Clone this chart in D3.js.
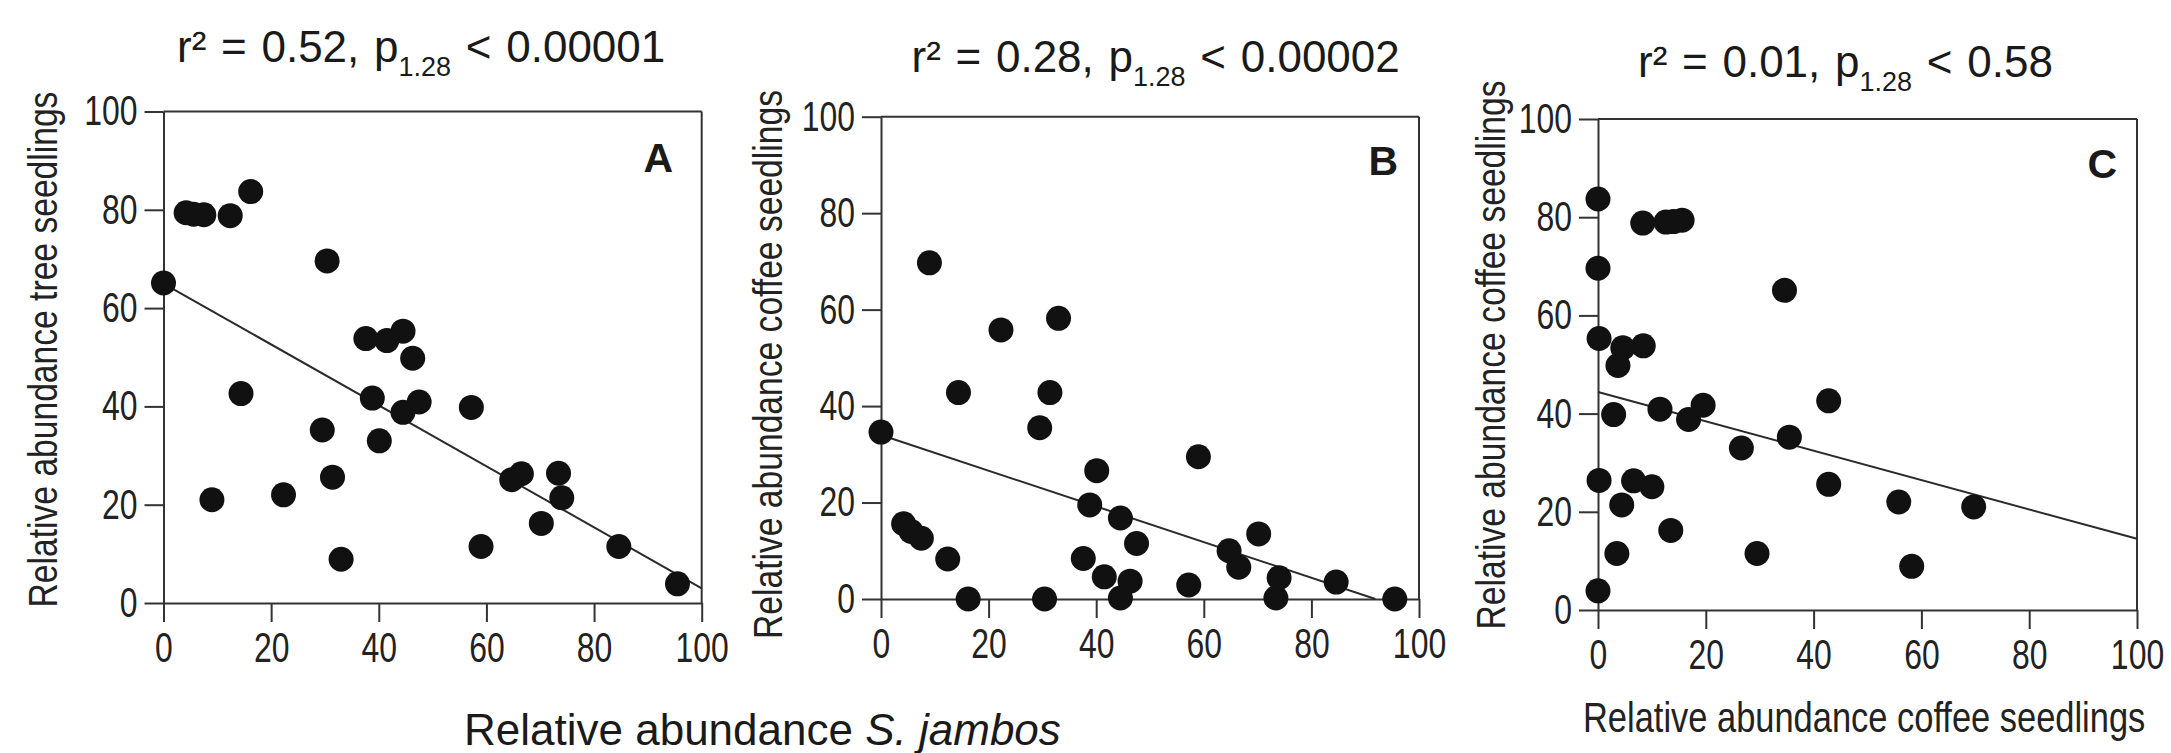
<!DOCTYPE html>
<html><head><meta charset="utf-8">
<script src="https://cdn.jsdelivr.net/npm/d3@7"></script>
<style>
body{margin:0;background:#fff;}
svg{display:block;}
.tick text{font-family:"Liberation Sans",Arial,Helvetica,sans-serif;font-size:42px;fill:#222;}
.narrow{font-family:"Liberation Sans",Arial,Helvetica,sans-serif;fill:#222;}
.reg{font-family:"Liberation Sans",Arial,Helvetica,sans-serif;fill:#1a1a1a;}
</style></head><body>
<svg id="chart" width="2171" height="753"></svg>
<script>
// ---- data ----
const tickValues = [0, 20, 40, 60, 80, 100];
// relative abundance S. jambos (x of panels A and B)
const jambos = [16.2, 30.4, 44.5, 73.4, 95.5, 46.3, 41.5, 37.6, 57.2, 74.0, 84.6, 12.4, 7.5, 4.2, 66.5,
                64.7, 47.5, 70.2, 44.5, 38.8, 40.1, 59.0, 0.0, 29.5, 14.4, 31.4, 22.3, 33.0, 9.0, 5.6];
// relative abundance tree seedlings (y of panels A and C)
const tree   = [83.7, 69.6, 55.3, 26.4, 3.9, 49.8, 53.4, 53.8, 39.8, 21.4, 11.5, 78.8, 79.0, 79.4, 26.3,
                25.1, 40.9, 16.2, 38.8, 41.7, 33.0, 11.5, 65.1, 35.2, 42.6, 25.6, 22.0, 8.9, 21.0, 79.1];
// relative abundance coffee seedlings (y of panel B, x of panel C)
const coffee = [0.0, 0.0, 0.2, 0.2, 0.0, 3.7, 4.6, 8.4, 2.9, 4.4, 3.5, 8.3, 12.6, 15.6, 6.6,
                10.0, 11.5, 13.5, 16.8, 19.5, 26.6, 29.5, 34.6, 35.5, 42.8, 42.8, 55.8, 58.2, 69.7, 14.0];
const panelLetters = ["A", "B", "C"];
const r2Values = ["0.52", "0.28", "0.01"];
const pValues = ["0.00001", "0.00002", "0.58"];
const pSub = "1.28";
const fitIntercepts = [65, 34, 44.4];
const fitSlopes = [-0.62, -0.37, -0.299];
const yTitles = ["Relative abundance tree seedlings", "Relative abundance coffee seedlings", "Relative abundance coffee seedlings"];
const xTitleAB = ["Relative abundance ", "S. jambos"];
const xTitleC = "Relative abundance coffee seedlings";

// ---- layout ----
const panels = [
  {xs: jambos, ys: tree,   x0: 163.5, x1: 701.7, y0: 603, y1: 111.5, tx: 177,   ty: 62, lx: 673,  ly: 172, ytx: 57,   yty: 349.5},
  {xs: jambos, ys: coffee, x0: 881,   x1: 1419,  y0: 599, y1: 116.7, tx: 911.5, ty: 72, lx: 1398, ly: 175, ytx: 782,  yty: 364.5},
  {xs: coffee, ys: tree,   x0: 1598,  x1: 2137,  y0: 610, y1: 119,   tx: 1638,  ty: 77, lx: 2117, ly: 178, ytx: 1505, yty: 355}
];
function narrow(sel, f) {
  sel.each(function () {
    const L = this.getComputedTextLength();
    d3.select(this).attr("textLength", L * f).attr("lengthAdjust", "spacingAndGlyphs");
  });
}

const svg = d3.select("#chart");
const axisColor = "#333";

panels.forEach((p, i) => {
  const g = svg.append("g");
  const x = d3.scaleLinear().domain([0, 100]).range([p.x0, p.x1]);
  const y = d3.scaleLinear().domain([0, 100]).range([p.y0, p.y1]);

  const xa = g.append("g").attr("transform", `translate(0,${p.y0})`)
    .call(d3.axisBottom(x).tickValues(tickValues).tickSize(19).tickPadding(10).tickSizeOuter(0));
  const ya = g.append("g").attr("transform", `translate(${p.x0},0)`)
    .call(d3.axisLeft(y).tickValues(tickValues).tickSize(19).tickPadding(7).tickSizeOuter(0));
  [xa, ya].forEach(a => {
    a.selectAll("path,line").attr("stroke", axisColor).attr("stroke-width", 2);
    narrow(a.selectAll("text"), 0.76);
  });
  // frame top & right
  g.append("line").attr("x1", x(0)).attr("x2", x(100)).attr("y1", y(100)).attr("y2", y(100))
    .attr("stroke", axisColor).attr("stroke-width", 2);
  g.append("line").attr("x1", x(100)).attr("x2", x(100)).attr("y1", y(100)).attr("y2", y(0))
    .attr("stroke", axisColor).attr("stroke-width", 2);

  // regression line
  const a = fitIntercepts[i], b = fitSlopes[i];
  const xEnd = (a + b * 100 < 0) ? -a / b : 100;
  g.append("path").datum([0, xEnd])
    .attr("d", d3.line().x(d => x(d)).y(d => y(a + b * d)))
    .attr("stroke", "#2a2a2a").attr("stroke-width", 2).attr("fill", "none");

  // points
  g.selectAll("circle.pt").data(d3.range(p.xs.length)).join("circle")
    .attr("class", "pt")
    .attr("cx", k => x(p.xs[k])).attr("cy", k => y(p.ys[k]))
    .attr("r", 12.5).attr("fill", "#111");

  // panel letter
  g.append("text").attr("class", "reg").attr("x", p.lx).attr("y", p.ly)
    .attr("text-anchor", "end").attr("font-size", 41).attr("font-weight", "bold").text(panelLetters[i]);

  // title
  const t = g.append("text").attr("class", "reg").attr("x", p.tx).attr("y", p.ty)
    .attr("font-size", 44).attr("word-spacing", 2.5);
  t.append("tspan").text(`r\u00B2 = ${r2Values[i]}, p`);
  t.append("tspan").attr("font-size", 27).attr("dy", 14).text(pSub);
  t.append("tspan").attr("dy", -14).text(` < ${pValues[i]}`);

  // y title
  const yt = g.append("text").attr("class", "narrow")
    .attr("transform", `translate(${p.ytx},${p.yty}) rotate(-90)`)
    .attr("text-anchor", "middle").attr("font-size", 41).text(yTitles[i]);
  narrow(yt, 0.82);
});

// x titles
const xt = svg.append("text").attr("class", "reg").attr("x", 464).attr("y", 745).attr("font-size", 44);
xt.append("tspan").text(xTitleAB[0]);
xt.append("tspan").attr("font-style", "italic").text(xTitleAB[1]);

const xc = svg.append("text").attr("class", "narrow").attr("x", 1583).attr("y", 732).attr("font-size", 42).text(xTitleC);
narrow(xc, 0.82);
</script>
</body></html>
